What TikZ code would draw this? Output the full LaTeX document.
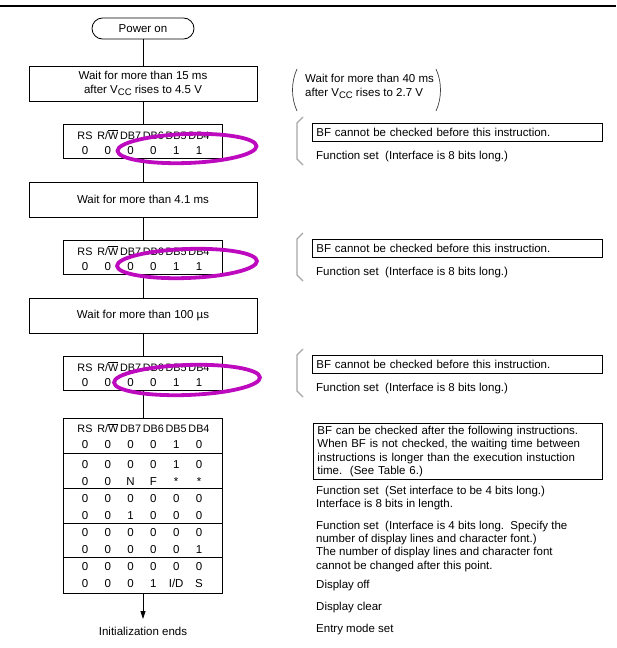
\documentclass[tikz,border=0pt]{standalone}
\usepackage{fontspec}
\setmainfont{Liberation Sans}
\usetikzlibrary{arrows.meta}
\definecolor{mag}{RGB}{190,10,190}
\newcommand\rwbar{R/$\overline{\hbox{W}}$}
\newcommand\vcc{V\raisebox{-2.6pt}{\fontsize{9.5}{10}\selectfont CC}}
\newcommand\mytabrow[4][cell]{%
  \foreach \v [count=\k] in {#4} {\node[#1] (#3-\k) at ({85+(\k-1)*22.8},#2) {\v};}}
\begin{document}
\begin{tikzpicture}[x=1pt,y=-1pt,
  font=\fontsize{11.5}{13.5}\selectfont,
  box/.style={draw, line width=0.8pt, inner sep=0pt},
  wbox/.style={box, minimum width=228pt, minimum height=35pt, align=center},
  cbox/.style={box, minimum width=159pt, minimum height=34pt},
  cell/.style={inner sep=0pt, text height=8.2pt, text depth=0pt},
  hcell/.style={cell, font=\fontsize{10.8}{12}\selectfont, text height=7.8pt},
  conn/.style={line width=0.8pt},
  ring/.style={draw=mag, line width=3.8pt},
  brk/.style={draw=gray!70, line width=1.3pt},
  paren/.style={draw=black!75, line width=0.7pt},
  rt/.style={anchor=west, inner sep=0pt, text height=8.2pt, text depth=0pt},
  rbox/.style={box, anchor=west, text width=282pt, inner xsep=4pt, inner ysep=0pt, minimum height=17.5pt, align=left}]
\useasboundingbox (0,0) rectangle (616,648);

% top rule
\coordinate (tl) at (0,6);
\coordinate (tr) at (616,6);
\draw[line width=2pt] (tl) -- (tr);

% left flow
\node[box, rounded corners=10.5pt, minimum width=102pt, minimum height=21pt] (pwr) at (143,28.5) {Power on};
\node[wbox] (w1) at (143,83.5) {Wait for more than 15 ms\\after \vcc{} rises to 4.5 V};
\node[cbox] (c1) at (143,141) {};
\mytabrow[hcell]{135.5}{c1h}{RS,\rwbar,DB7,DB6,DB5,DB4}
\mytabrow{150}{c1v}{0,0,0,0,1,1}
\node[wbox] (w2) at (143,199.5) {Wait for more than 4.1 ms};
\node[cbox] (c2) at (143,257) {};
\mytabrow[hcell]{251.5}{c2h}{RS,\rwbar,DB7,DB6,DB5,DB4}
\mytabrow{266}{c2v}{0,0,0,0,1,1}
\node[wbox] (w3) at (143,315.5) {Wait for more than 100 µs};
\node[cbox] (c3) at (143,373) {};
\mytabrow[hcell]{367.5}{c3h}{RS,\rwbar,DB7,DB6,DB5,DB4}
\mytabrow{382}{c3v}{0,0,0,0,1,1}

% big table
\node[box, minimum width=159pt, minimum height=175pt] (tb) at (143,505.5) {};
\coordinate (s1) at (143,453);
\coordinate (s2) at (143,488);
\coordinate (s3) at (143,523);
\coordinate (s4) at (143,557);
\foreach \s in {s1,s2,s3,s4} {\draw[conn] (tb.west |- \s) -- (tb.east |- \s);}
\mytabrow[hcell]{429}{r0}{RS,\rwbar,DB7,DB6,DB5,DB4}
\mytabrow{444}{r1}{0,0,0,0,1,0}
\mytabrow{464}{r2}{0,0,0,0,1,0}
\mytabrow{481}{r3}{0,0,N,F,*,*}
\mytabrow{498}{r4}{0,0,0,0,0,0}
\mytabrow{515}{r5}{0,0,1,0,0,0}
\mytabrow{532}{r6}{0,0,0,0,0,0}
\mytabrow{549}{r7}{0,0,0,0,0,1}
\mytabrow{566}{r8}{0,0,0,0,0,0}
\mytabrow{583}{r9}{0,0,0,1,{I/D},S}

\coordinate (endc) at (143,619);
\node (iend) at (143,631) {Initialization ends};

% connectors
\draw[conn] (pwr) -- (w1);
\draw[conn] (w1) -- (c1);
\draw[conn] (c1) -- (w2);
\draw[conn] (w2) -- (c2);
\draw[conn] (c2) -- (w3);
\draw[conn] (w3) -- (c3);
\draw[conn] (c3) -- (tb);
\draw[conn, -{Triangle[length=8pt,width=5pt]}] (tb) -- (endc);

% magenta rings
\draw[ring, rotate around={2:(187,148.5)}] (187,148.5) ellipse [x radius=69.5pt, y radius=14.5pt];
\draw[ring, rotate around={2:(187,263.5)}] (187,263.5) ellipse [x radius=70pt, y radius=14.5pt];
\draw[ring, rotate around={2:(187,380)}] (187,380) ellipse [x radius=73pt, y radius=15pt];

% right column: parenthesised note
\draw[paren] (297,69) .. controls (291,82) and (291,98) .. (297,111);
\draw[paren] (436,69) .. controls (442,82) and (442,98) .. (436,111);
\node[rt] (n1) at (305,78) {Wait for more than 40 ms};
\node[rt] (n2) at (305,92) {after \vcc{} rises to 2.7 V};

% brackets and notes
\foreach \d [count=\i] in {0,116,232} {
  \draw[brk] (303,117+\d) -- (297,123+\d) -- (297,159+\d) -- (303,165+\d);
  \node[rbox] (bf\i) at (312,132.5+\d) {BF cannot be checked before this instruction.};
  \node[rt] (fs\i) at (316,155+\d) {Function set\ \ (Interface is 8 bits long.)};
}

% lower notes
\node[box, anchor=north west, text width=281pt, inner xsep=4pt, inner ysep=0pt, minimum height=56pt, align=left,
  font=\fontsize{11.5}{13.3}\selectfont] (bfc) at (313,423)
  {BF can be checked after the following instructions.\\When BF is not checked, the waiting time between\\instructions is longer than the execution instuction\\time.\ \ (See Table 6.)};
\node[rt] (g1) at (316,490) {Function set\ \ (Set interface to be 4 bits long.)};
\node[rt] (g2) at (316,503) {Interface is 8 bits in length.};
\node[rt] (g3) at (316,525) {Function set\ \ (Interface is 4 bits long.\ \ Specify the};
\node[rt] (g4) at (316,538.3) {number of display lines and character font.)};
\node[rt] (g5) at (316,551.7) {The number of display lines and character font};
\node[rt] (g6) at (316,565) {cannot be changed after this point.};
\node[rt] (g7) at (316,584) {Display off};
\node[rt] (g8) at (316,606) {Display clear};
\node[rt] (g9) at (316,628) {Entry mode set};
\end{tikzpicture}
\end{document}
